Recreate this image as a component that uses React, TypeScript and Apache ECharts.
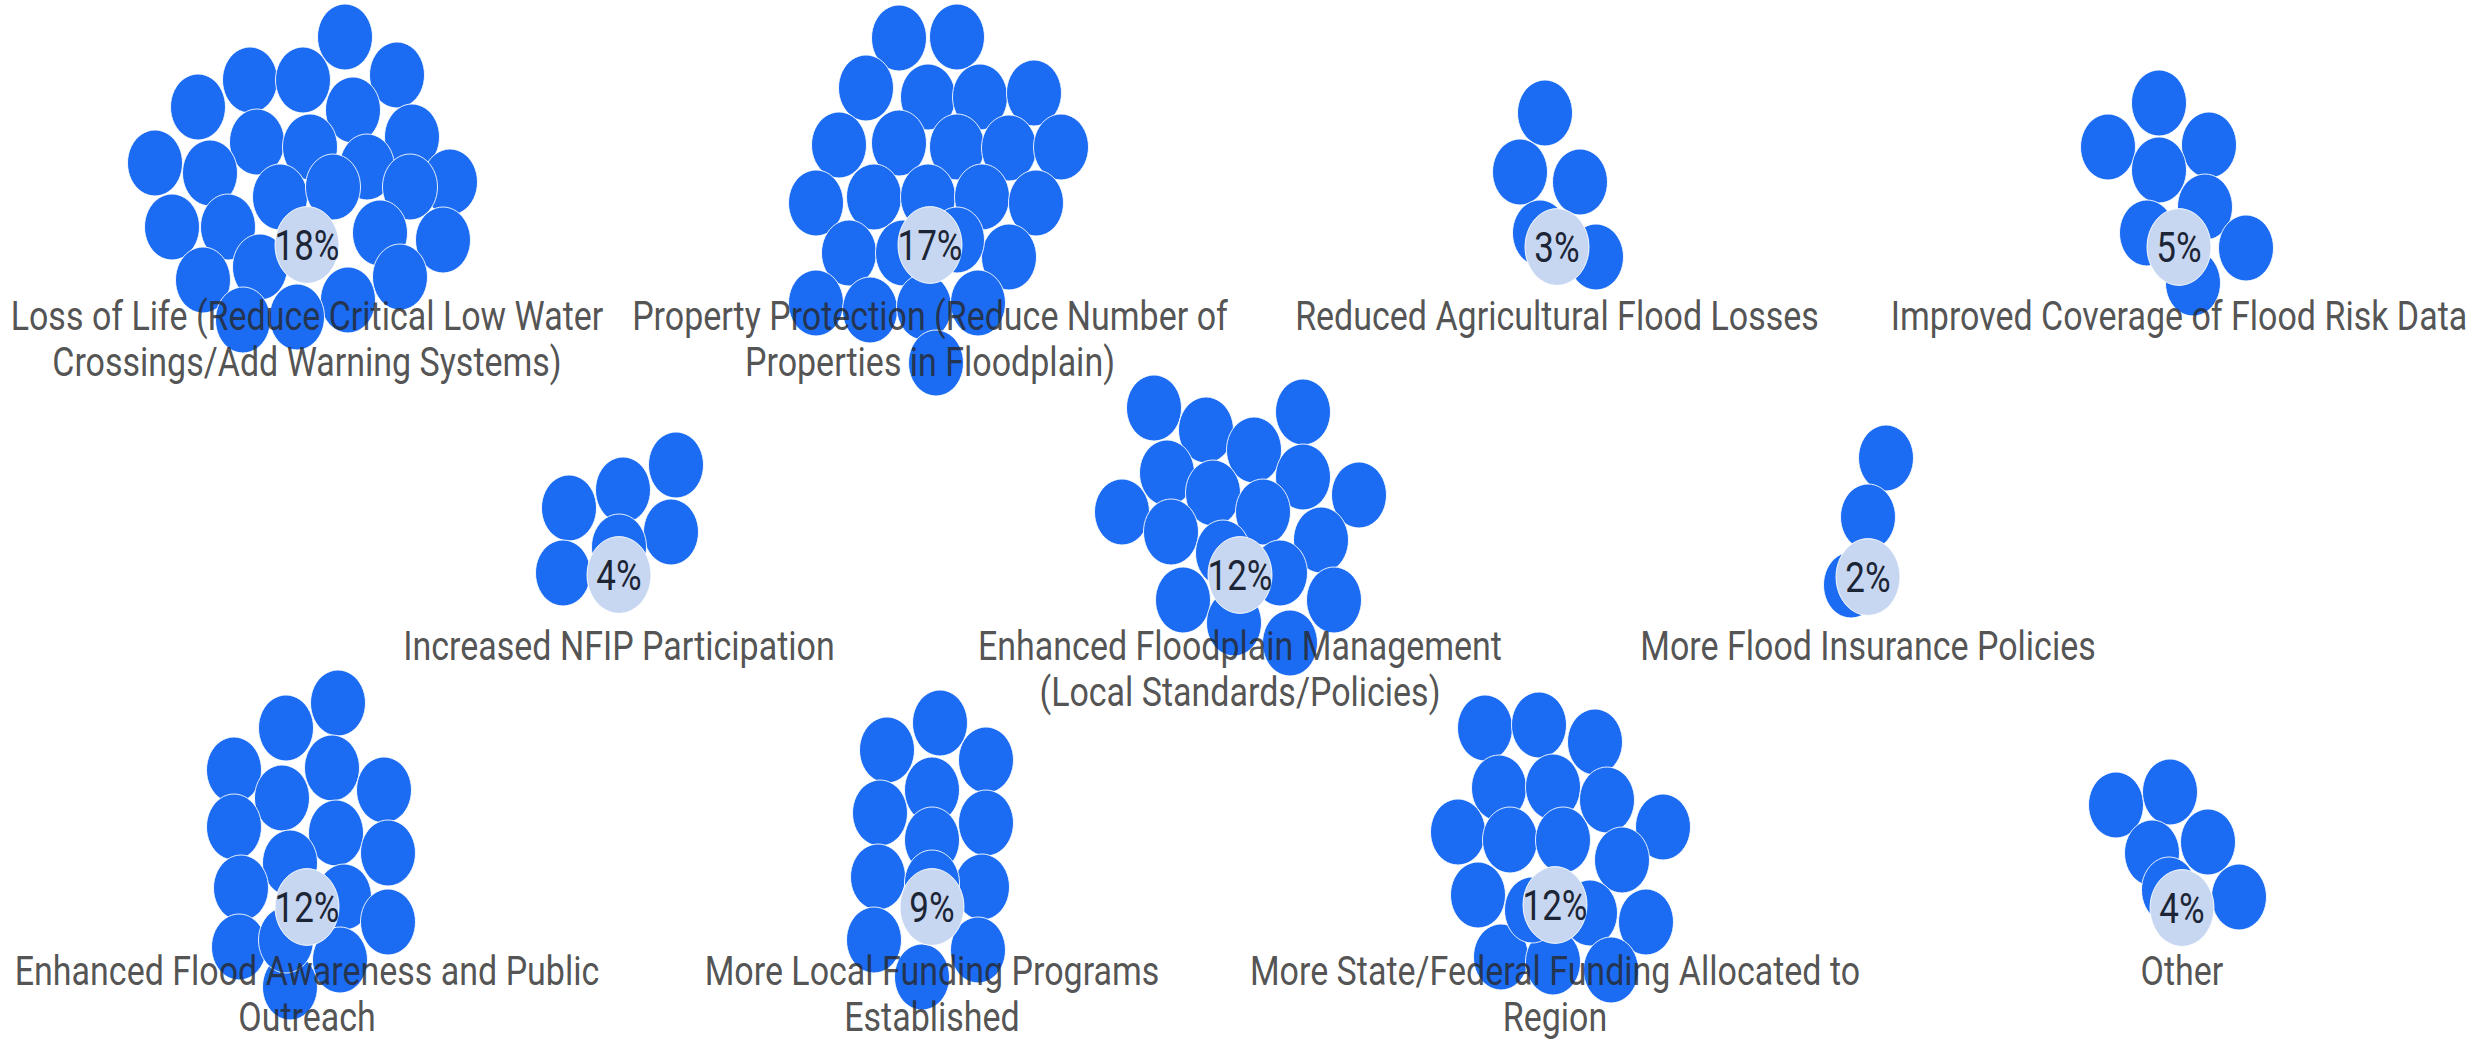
import React, { useEffect, useRef } from "react";
import * as echarts from "echarts";

// ---- data ----
const categories = [
  "Loss of Life (Reduce Critical Low Water Crossings/Add Warning Systems)",
  "Property Protection (Reduce Number of Properties in Floodplain)",
  "Reduced Agricultural Flood Losses",
  "Improved Coverage of Flood Risk Data",
  "Increased NFIP Participation",
  "Enhanced Floodplain Management (Local Standards/Policies)",
  "More Flood Insurance Policies",
  "Enhanced Flood Awareness and Public Outreach",
  "More Local Funding Programs Established",
  "More State/Federal Funding Allocated to Region",
  "Other",
];

const categoryLabels = [
  "Loss of Life (Reduce Critical Low Water\nCrossings/Add Warning Systems)",
  "Property Protection (Reduce Number of\nProperties in Floodplain)",
  "Reduced Agricultural Flood Losses",
  "Improved Coverage of Flood Risk Data",
  "Increased NFIP Participation",
  "Enhanced Floodplain Management\n(Local Standards/Policies)",
  "More Flood Insurance Policies",
  "Enhanced Flood Awareness and Public\nOutreach",
  "More Local Funding Programs\nEstablished",
  "More State/Federal Funding Allocated to\nRegion",
  "Other",
];

const percents = [18, 17, 3, 5, 4, 12, 2, 12, 9, 12, 4];

// ---- layout (axis units of the full picture) ----
const bubbleX = [307, 930, 1557, 2179, 619, 1240, 1868, 307, 932, 1555, 2182];
const bubbleY = [245, 245, 247, 247, 575, 575, 577, 907, 907, 905, 908];
const labelTop = [292, 292, 292, 292, 622, 622, 622, 947, 947, 947, 947];

// dot positions of each cluster, relative to its percent bubble
const lossOfLifeDots = [
  [38, -208], [-57, -165], [-4, -165], [90, -170], [-109, -138], [46, -135], [-50, -103],
  [3, -98], [105, -108], [-152, -82], [-97, -72], [60, -78], [-27, -48], [143, -63],
  [103, -58], [26, -58], [-135, -18], [-79, -18], [73, -12], [136, -5], [-104, 35],
  [-47, 22], [93, 32], [41, 55], [-64, 75], [-10, 72],
];
const propertyDots = [
  [-31, -207], [27, -208], [-64, -157], [-2, -148], [50, -148], [104, -152], [-91, -100],
  [-31, -102], [27, -98], [79, -97], [131, -98], [-114, -42], [-56, -48], [-2, -48],
  [52, -48], [106, -42], [-81, 8], [-27, 8], [79, 12], [27, -5], [-114, 58], [-60, 65],
  [-6, 62], [48, 58], [6, 118],
];
const agricultureDots = [[-12, -134], [-37, -75], [23, -65], [-17, -14], [39, 10]];
const riskDataDots = [[-20, -144], [-71, -100], [30, -102], [-20, -77], [26, -40], [-32, -14], [67, 1], [14, 36]];
const nfipDots = [[-50, -67], [4, -85], [57, -110], [52, -43], [-56, -2], [0, -28]];
const floodplainDots = [
  [-86, -167], [63, -163], [-34, -145], [14, -125], [-73, -102], [63, -98], [119, -80],
  [-118, -63], [-27, -82], [23, -63], [-69, -43], [81, -35], [-17, -22], [40, -2],
  [-57, 25], [94, 25], [-6, 48], [50, 68],
];
const insuranceDots = [[18, -119], [0, -60], [-17, 8]];
const awarenessDots = [
  [31, -204], [-21, -179], [-73, -137], [25, -139], [77, -117], [-25, -109], [-73, -80],
  [29, -74], [81, -54], [-17, -44], [-66, -19], [37, -10], [81, 15], [-68, 40], [33, 53],
  [-17, 80], [-21, 33],
];
const localFundingDots = [
  [-45, -157], [8, -184], [54, -147], [0, -117], [-52, -94], [54, -84], [0, -67],
  [-54, -30], [50, -20], [-58, 33], [46, 43], [-10, 70], [0, -24],
];
const stateFundingDots = [
  [-70, -177], [-16, -180], [40, -163], [-56, -117], [-2, -118], [52, -105], [-97, -73],
  [-45, -65], [8, -65], [108, -78], [67, -45], [-77, -10], [35, 8], [91, 17], [-54, 52],
  [-2, 57], [56, 65], [-23, 5],
];
const otherDots = [[-66, -103], [-12, -116], [-30, -55], [26, -66], [57, -11], [-13, -18]];

const clusterDots = [
  lossOfLifeDots, propertyDots, agricultureDots, riskDataDots, nfipDots, floodplainDots,
  insuranceDots, awarenessDots, localFundingDots, stateFundingDots, otherDots,
];

const W = 2483;
const H = 1045;
const STRETCH = 1.2;
const INNER_H = Math.round(H / STRETCH);

const BLUE = "#1b6cf2";
const LIGHT = "#c7d7f1";
const FONT = "Roboto, 'Noto Sans', sans-serif";

export default function App() {
  const ref = useRef<HTMLDivElement>(null);

  useEffect(() => {
    if (!ref.current) return;
    const chart = echarts.init(ref.current, null, { renderer: "svg" });

    const dotData: number[][] = [];
    clusterDots.forEach((offs, i) => {
      offs.forEach(([dx, dy]) => dotData.push([bubbleX[i] + dx, bubbleY[i] + dy]));
    });

    const bubbleData = percents.map((p, i) => ({
      name: categories[i],
      value: [bubbleX[i], bubbleY[i], p],
    }));

    const labelData = categories.map((c, i) => ({
      name: c,
      value: [bubbleX[i], labelTop[i]],
    }));

    chart.setOption({
      animation: false,
      backgroundColor: "#ffffff",
      grid: { left: 0, right: 0, top: 0, bottom: 0 },
      xAxis: { type: "value", min: 0, max: W, show: false },
      yAxis: { type: "value", min: 0, max: H, inverse: true, show: false },
      series: [
        {
          type: "scatter",
          name: "responses",
          data: dotData,
          symbol: "circle",
          symbolSize: 55,
          silent: true,
          z: 2,
          itemStyle: { color: BLUE, borderColor: "#ffffff", borderWidth: 0.8, opacity: 1 },
        },
        {
          type: "scatter",
          name: "share",
          data: bubbleData,
          symbol: "circle",
          symbolSize: 64,
          silent: true,
          z: 3,
          itemStyle: { color: LIGHT, borderColor: "#ffffff", borderWidth: 0.8, opacity: 1 },
          label: {
            show: true,
            position: "inside",
            formatter: (p: any) => `${p.value[2]}%`,
            fontSize: 35,
            fontFamily: FONT,
            color: "#1c2536",
          },
        },
        {
          type: "scatter",
          name: "categories",
          data: labelData,
          symbol: "circle",
          symbolSize: 1,
          silent: true,
          z: 4,
          itemStyle: { color: "rgba(0,0,0,0)" },
          label: {
            show: true,
            position: "inside",
            align: "center",
            verticalAlign: "top",
            formatter: (p: any) => categoryLabels[p.dataIndex],
            fontSize: 34,
            lineHeight: 39,
            fontFamily: FONT,
            color: "#262626",
          },
        },
      ],
    });

    return () => chart.dispose();
  }, []);

  return (
    <div
      style={{
        position: "absolute",
        left: 0,
        top: 0,
        width: W,
        height: H,
        overflow: "hidden",
        background: "#ffffff",
      }}
    >
      <div style={{ width: W, height: INNER_H, transform: `scaleY(${H / INNER_H})`, transformOrigin: "0 0" }}>
        <div ref={ref} style={{ width: W, height: INNER_H }} />
      </div>
    </div>
  );
}
